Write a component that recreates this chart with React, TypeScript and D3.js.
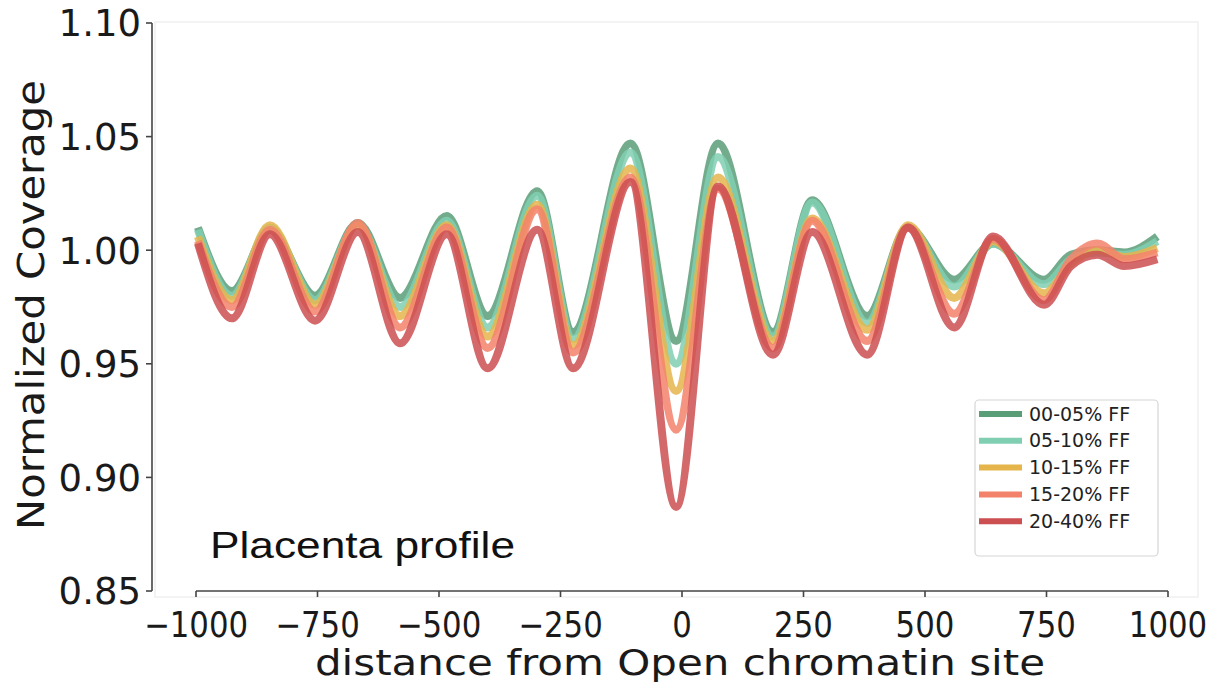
import React from "react";
import * as d3 from "d3";

const W = 1225;
const H = 690;

// distance from open chromatin site (shared x grid at the curve extrema)
const distance = [-996, -926, -848, -755, -667, -580, -484, -400, -298, -224, -106, -12, 74, 187, 268, 381, 465, 560, 640, 745, 800, 855, 910, 978];

const ff00_05 = [1.010, 0.982, 1.009, 0.980, 1.012, 0.979, 1.015, 0.971, 1.026, 0.964, 1.047, 0.960, 1.047, 0.964, 1.022, 0.971, 1.010, 0.987, 1.003, 0.987, 0.998, 1.000, 0.999, 1.006];
const ff05_10 = [1.009, 0.980, 1.010, 0.978, 1.011, 0.975, 1.013, 0.966, 1.024, 0.961, 1.043, 0.950, 1.041, 0.962, 1.021, 0.968, 1.010, 0.984, 1.003, 0.985, 0.996, 0.999, 0.998, 1.004];
const ff10_15 = [1.006, 0.978, 1.011, 0.976, 1.011, 0.971, 1.011, 0.962, 1.020, 0.958, 1.036, 0.938, 1.032, 0.960, 1.014, 0.965, 1.011, 0.979, 1.004, 0.981, 0.994, 1.000, 0.997, 1.001];
const ff15_20 = [1.004, 0.975, 1.009, 0.973, 1.012, 0.966, 1.010, 0.957, 1.018, 0.955, 1.032, 0.921, 1.027, 0.957, 1.013, 0.960, 1.010, 0.972, 1.005, 0.978, 0.996, 1.003, 0.996, 0.999];
const ff20_40 = [1.003, 0.970, 1.007, 0.969, 1.008, 0.959, 1.007, 0.948, 1.009, 0.948, 1.030, 0.887, 1.028, 0.954, 1.008, 0.954, 1.010, 0.966, 1.006, 0.976, 0.993, 0.998, 0.993, 0.996];

const seriesNames = ["00-05% FF", "05-10% FF", "10-15% FF", "15-20% FF", "20-40% FF"];
const seriesValues = [ff00_05, ff05_10, ff10_15, ff15_20, ff20_40];
const seriesColors = ["#5a9e78", "#80cfb2", "#e5b54c", "#f3826b", "#cc4f52"];

const xTicks = [-1000, -750, -500, -250, 0, 250, 500, 750, 1000];
const yTicks = [0.85, 0.9, 0.95, 1.0, 1.05, 1.1];

export default function App() {
  const x = d3.scaleLinear().domain([-1000, 1000]).range([196, 1168]);
  const y = d3.scaleLinear().domain([0.85, 1.1]).range([591, 23]);
  const line = d3
    .line<number>()
    .x((_, i) => x(distance[i]))
    .y((d) => y(d))
    .curve(d3.curveMonotoneX);

  const fmtX = (v: number) => (v < 0 ? "\u2212" + Math.abs(v) : String(v));
  const font = "DejaVu Sans, sans-serif";

  const legX = 975;
  const legY = 400;
  const legStep = 26.8;

  return (
    <svg
      width={W}
      height={H}
      style={{ position: "absolute", left: 0, top: 0, background: "#fff" }}
      fontFamily={font}
    >
      {/* faint frame */}
      <rect x={155} y={22} width={1043} height={575} fill="none" stroke="#f0f0f0" strokeWidth={1.5} />

      {/* lines */}
      {seriesValues.map((vals, i) => (
        <path
          key={i}
          d={line(vals) || ""}
          fill="none"
          stroke={seriesColors[i]}
          strokeWidth={8}
          strokeOpacity={0.85}
          strokeLinejoin="round"
          strokeLinecap="butt"
        />
      ))}

      {/* y axis */}
      <line x1={152} x2={152} y1={y(1.1)} y2={y(0.85)} stroke="#444" strokeWidth={1.6} />
      {yTicks.map((t) => (
        <g key={t}>
          <line x1={146} x2={152} y1={y(t)} y2={y(t)} stroke="#444" strokeWidth={1.6} />
          <text x={141} y={y(t)} dy="0.36em" textAnchor="end" fontSize={37} fill="#1a1a1a">
            {t.toFixed(2)}
          </text>
        </g>
      ))}

      {/* x axis */}
      <line x1={x(-1000)} x2={x(1000)} y1={591} y2={591} stroke="#444" strokeWidth={1.6} />
      {xTicks.map((t) => (
        <g key={t}>
          <line x1={x(t)} x2={x(t)} y1={591} y2={597} stroke="#444" strokeWidth={1.6} />
          <text
            transform={`translate(${x(t)},637) scale(0.88,1)`}
            textAnchor="middle"
            fontSize={35}
            fill="#1a1a1a"
          >
            {fmtX(t)}
          </text>
        </g>
      ))}

      {/* axis titles */}
      <text
        transform="translate(680,675) scale(0.86,1)"
        textAnchor="middle"
        fontSize={36}
        fill="#1a1a1a"
        textLength={849}
        lengthAdjust="spacingAndGlyphs"
      >
        distance from Open chromatin site
      </text>
      <text
        transform="translate(44,305) rotate(-90)"
        textAnchor="middle"
        fontSize={37}
        fill="#1a1a1a"
        textLength={450}
        lengthAdjust="spacingAndGlyphs"
      >
        Normalized Coverage
      </text>

      {/* annotation */}
      <text x={210} y={558} fontSize={36} fill="#111" fontFamily="Liberation Sans, Arial, sans-serif" textLength={305} lengthAdjust="spacingAndGlyphs">
        Placenta profile
      </text>

      {/* legend */}
      <rect x={legX} y={legY} width={183} height={156} rx={4} fill="#fff" fillOpacity={0.85} stroke="#d6d6d6" strokeWidth={1.2} />
      {seriesNames.map((name, i) => {
        const yy = legY + 14 + i * legStep;
        return (
          <g key={name}>
            <line x1={legX + 4} x2={legX + 47} y1={yy} y2={yy} stroke={seriesColors[i]} strokeWidth={6} />
            <text x={legX + 54} y={yy} dy="0.35em" fontSize={19} fill="#222">
              {name}
            </text>
          </g>
        );
      })}
    </svg>
  );
}
